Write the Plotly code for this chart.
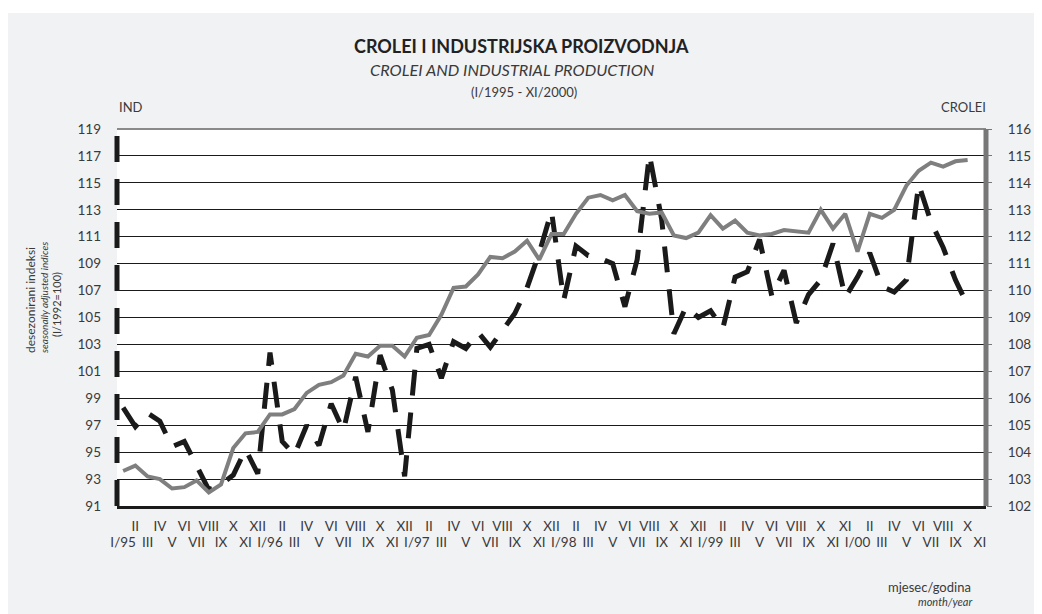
import plotly.graph_objects as go

# ---- data -------------------------------------------------------------
tick_labels = [
    "I/95", "II", "III", "IV", "V", "VI", "VII", "VIII", "IX", "X", "XI", "XII",
    "I/96", "II", "III", "IV", "V", "VI", "VII", "VIII", "IX", "X", "XI", "XII",
    "I/97", "II", "III", "IV", "V", "VI", "VII", "VIII", "IX", "X", "XI", "XII",
    "I/98", "II", "III", "IV", "V", "VI", "VII", "VIII", "IX", "X", "XI", "XII",
    "I/99", "II", "III", "IV", "V", "VI", "VII", "VIII", "IX", "X", "XI", "XI",
    "I/00", "II", "III", "IV", "V", "VI", "VII", "VIII", "IX", "X", "XI",
]

# industrial production (left axis), I/1995 - X/2000
ind = [
    98.3, 96.9, 97.9, 97.3, 95.4, 95.8, 94.0, 92.2, 92.6, 93.3, 95.2, 93.4,
    102.4, 95.8, 94.8, 97.0, 95.5, 98.6, 96.6, 100.6, 96.5, 102.2, 99.6, 93.2,
    102.7, 103.0, 100.5, 103.2, 102.7, 103.9, 102.8, 104.0, 105.3, 107.2, 109.8, 112.9,
    106.3, 110.3, 109.6, 109.4, 109.0, 105.8, 109.3, 117.1, 112.3, 103.8, 105.8, 105.0,
    105.5, 104.2, 108.0, 108.4, 110.8, 106.6, 108.5, 104.6, 106.7, 107.8, 110.5, 106.5,
    108.0, 109.8, 107.3, 106.9, 107.8, 114.9, 112.1, 110.2, 107.8, 105.9,
]

# CROLEI (right axis), I/1995 - X/2000
crolei = [
    103.3, 103.5, 103.1, 103.0, 102.65, 102.7, 102.95, 102.5, 102.8, 104.15, 104.7, 104.75,
    105.4, 105.4, 105.6, 106.2, 106.5, 106.6, 106.85, 107.65, 107.55, 107.95, 107.95, 107.55,
    108.25, 108.35, 109.1, 110.1, 110.15, 110.6, 111.25, 111.2, 111.45, 111.85, 111.15, 112.1,
    112.1, 112.85, 113.45, 113.55, 113.35, 113.55, 112.95, 112.85, 112.9, 112.05, 111.95, 112.15,
    112.8, 112.3, 112.6, 112.15, 112.05, 112.1, 112.25, 112.2, 112.15, 113.0, 112.3, 112.85,
    111.45, 112.85, 112.7, 113.0, 113.9, 114.45, 114.75, 114.6, 114.8, 114.85,
]

left_ticks = list(range(91, 120, 2))
right_ticks = list(range(102, 117))

# ---- figure -----------------------------------------------------------
x_ind = list(range(len(ind)))
x_cro = list(range(len(crolei)))
# upper label row: even months; lower label row: odd months
upper_pos = [i for i in range(len(tick_labels)) if i % 2 == 1]
upper_txt = [tick_labels[i] for i in upper_pos]
lower_pos = [i for i in range(len(tick_labels)) if i % 2 == 0]
lower_txt = [tick_labels[i] for i in lower_pos]
x_range = [-0.5, len(tick_labels) - 0.5]

FONT = "Lato, 'Open Sans', sans-serif"
TXT = "#3a3a3a"

fig = go.Figure()
fig.add_trace(go.Scatter(
    x=x_cro, y=crolei, xaxis="x2", yaxis="y2", mode="lines", name="CROLEI",
    line=dict(color="#7f7f7f", width=4), hoverinfo="skip"))
fig.add_trace(go.Scatter(
    x=x_ind, y=ind, xaxis="x", yaxis="y", mode="lines", name="IND",
    line=dict(color="#1a1a1a", width=5, dash="26px,17px"), hoverinfo="skip"))

W, H = 1042, 614
OFF = 8  # page body margin: screen = figure + OFF
# plot area in screen pixels: x 117..986, y 129..506
ML = 117 - OFF
MR = W - (986 - OFF)
MT = 129 - OFF
MB = H - (506 - OFF)
pw, ph = W - ML - MR, H - MT - MB


def px(xs):
    return (xs - OFF - ML) / pw


def py(ys):
    return (H - MB - (ys - OFF)) / ph


def note(text, xs, ys, size, xanchor="center", angle=0, color=TXT):
    return dict(text=text, x=px(xs), y=py(ys), xref="paper", yref="paper",
                xanchor=xanchor, yanchor="middle", textangle=angle,
                showarrow=False, font=dict(size=size, color=color, family=FONT))


tickfont = dict(size=13.5, color=TXT, family=FONT)

fig.update_layout(
    width=W, height=H, autosize=False,
    margin=dict(l=ML, r=MR, t=MT, b=MB, pad=0),
    paper_bgcolor="white", plot_bgcolor="white",
    showlegend=False,
    font=dict(family=FONT, color=TXT, size=13),
    xaxis=dict(
        range=x_range, tickmode="array",
        tickvals=upper_pos, ticktext=upper_txt, tickangle=0,
        showgrid=False, zeroline=False, showline=True,
        linecolor="#1a1a1a", linewidth=3,
        ticks="outside", ticklen=6, tickcolor="rgba(0,0,0,0)",
        tickfont=tickfont, fixedrange=True,
    ),
    xaxis2=dict(
        range=x_range, overlaying="x", side="bottom", anchor="y",
        tickmode="array", tickvals=lower_pos, ticktext=lower_txt, tickangle=0,
        showgrid=False, zeroline=False, showline=False,
        ticks="outside", ticklen=24, tickcolor="rgba(0,0,0,0)",
        tickfont=tickfont, fixedrange=True,
    ),
    yaxis=dict(
        range=[91, 119], tickmode="array", tickvals=left_ticks,
        showgrid=True, gridcolor="#1a1a1a", gridwidth=1.2,
        zeroline=False, showline=False, ticks="",
        tickfont=tickfont, ticklabelstandoff=15, fixedrange=True,
    ),
    yaxis2=dict(
        range=[102, 116], tickmode="array", tickvals=right_ticks,
        overlaying="y", side="right", anchor="x2", showgrid=False, zeroline=False,
        showline=False, ticks="outside", ticklen=5, tickcolor="#777777",
        tickfont=tickfont, ticklabelstandoff=13, fixedrange=True,
    ),
    shapes=[
        dict(type="rect", xref="paper", yref="paper",
             x0=px(7), x1=px(W + 20), y0=py(H + 20), y1=py(13),
             fillcolor="#f1f2f4", line=dict(width=0), layer="below"),
        dict(type="rect", xref="paper", yref="paper",
             x0=0, x1=1, y0=0, y1=1,
             fillcolor="white", line=dict(width=0), layer="below"),
        dict(type="line", xref="paper", yref="paper",
             x0=0, x1=1, y0=1, y1=1,
             line=dict(color="#8a8a8a", width=2), layer="above"),
        dict(type="line", xref="paper", yref="paper",
             x0=1, x1=1, y0=0, y1=1,
             line=dict(color="#777777", width=5), layer="above"),
        dict(type="line", xref="paper", yref="paper",
             x0=0, x1=0, y0=0, y1=1,
             line=dict(color="#1a1a1a", width=5, dash="26px,17px"), layer="above"),
    ],
    annotations=[
        note("<b>CROLEI I INDUSTRIJSKA PROIZVODNJA</b>", 521, 46, 18, color="#222222"),
        note("<i>CROLEI AND INDUSTRIAL PRODUCTION</i>", 512, 70, 16.3),
        note("(I/1995 - XI/2000)", 524, 92, 13),
        note("IND", 117, 107, 13, xanchor="left"),
        note("CROLEI", 988, 107, 13, xanchor="right"),
        note("desezonirani indeksi", 30, 300, 12, angle=-90),
        note("<i>seasonally adjusted indices</i>", 44, 298, 10, angle=-90),
        note("(I/1992=100)", 56, 305, 11, angle=-90),
        note("mjesec/godina", 973, 587, 13, xanchor="right"),
        note("<i>month/year</i>", 974, 601, 11, xanchor="right"),
    ],
)

fig.write_html("out.html")
